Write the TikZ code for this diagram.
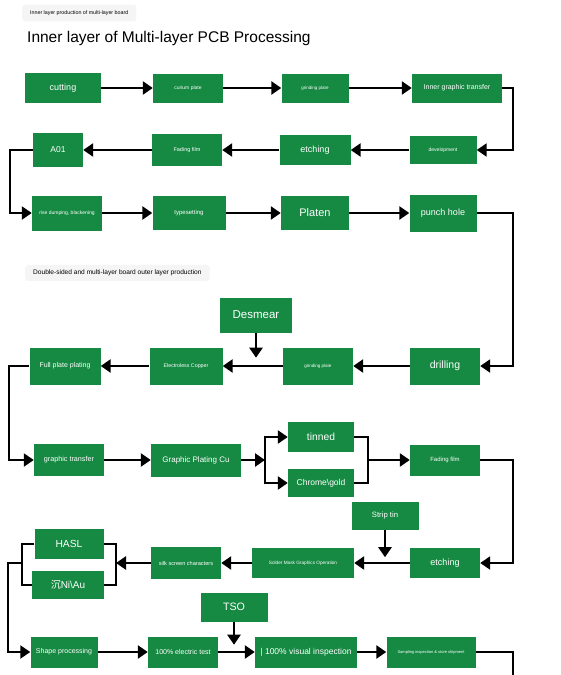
\documentclass[tikz,border=0pt]{standalone}
\usepackage{fontspec}
\setmainfont{Liberation Sans}
\newfontfamily\cjk{Noto Sans CJK SC}
\usetikzlibrary{arrows.meta}
\definecolor{pcbgreen}{RGB}{22,138,66}

\begin{document}
\begin{tikzpicture}[x=1pt, y=-1pt, >={Triangle[length=10pt,width=13pt]},
  box/.style args={#1/#2}{fill=pcbgreen, text=white, inner sep=0pt, minimum width=#1, minimum height=#2},
  fs/.style={font=\fontsize{#1}{#1}\selectfont},
  flow/.style={->, line width=2.8pt},
  side/.style={line width=2.2pt},
  tag/.style={fill=black!4, rounded corners=3pt, anchor=west, inner xsep=8pt, inner ysep=6pt}]
	\useasboundingbox (0,0) rectangle (561,675);
	\node[tag, fs=5.3] (toplabel) at (22,13) {Inner layer production of multi-layer board};
	\node[anchor=west, inner sep=0pt, fs=15.5] (title) at (27,38) {Inner layer of Multi-layer PCB Processing};
	\node[tag, fs=6.6, inner ysep=5pt] (outlabel) at (25,273) {Double-sided and multi-layer board outer layer production};

	\node[box=76/30, fs=9] (cutting) at (63,88) {cutting};
	\node[box=70/29, fs=5] (curium) at (188,88) {curium plate};
	\node[box=67/29, fs=4.5] (grindA) at (315,88) {grinding plate};
	\node[box=90/29, fs=7] (inner) at (457,88) {Inner graphic transfer};
	\draw[flow] (cutting) -- (curium);
	\draw[flow] (curium) -- (grindA);
	\draw[flow] (grindA) -- (inner);

	\node[box=50/34, fs=8.5] (a01) at (58,150) {A01};
	\node[box=70/32, fs=5.5] (fadeA) at (187,150) {Fading film};
	\node[box=71/30, fs=9] (etchA) at (315,150) {etching};
	\node[box=67/28, fs=5] (develop) at (443,150) {development};
	\draw[side,->] (inner.east) -- ++(11,0) |- (develop);
	\draw[flow] (develop) -- (etchA);
	\draw[flow] (etchA) -- (fadeA);
	\draw[flow] (fadeA) -- (a01);

	\node[box=70/35, fs=5] (rinse) at (67,213) {rise dumping, blackening};
	\node[box=73/34, fs=6] (typeset) at (189,213) {typesetting};
	\node[box=68/34, fs=11] (platen) at (315,213) {Platen};
	\node[box=67/37, fs=9] (punch) at (443,213) {punch hole};
	\draw[side,->] (a01.west) -- ++(-23,0) |- (rinse);
	\draw[flow] (rinse) -- (typeset);
	\draw[flow] (typeset) -- (platen);
	\draw[flow] (platen) -- (punch);

	\node[box=72/35, fs=11.5] (desmear) at (256,315) {Desmear};
	\node[box=71/37, fs=7] (fullplate) at (65,366) {Full plate plating};
	\node[box=73/37, fs=5.3] (copper) at (186,366) {Electroless Copper};
	\node[box=70/37, fs=4.5] (grindB) at (318,366) {grinding plate};
	\node[box=70/37, fs=10.5] (drilling) at (445,366) {drilling};
	\draw[side,->] (punch.east) -- ++(36,0) |- (drilling);
	\draw[flow] (drilling) -- (grindB);
	\draw[flow] (grindB) -- (copper);
	\draw[flow] (copper) -- (fullplate);
	\draw[flow] (desmear.south) -- ++(0,25);

	\node[box=70/32, fs=7.2] (graphic) at (69,460) {graphic transfer};
	\node[box=90/33, fs=8] (gpcu) at (196,460) {Graphic Plating Cu};
	\node[box=66/30, fs=10.3] (tinned) at (321,437) {tinned};
	\node[box=66/28, fs=8.5] (chrome) at (321,483) {Chrome\textbackslash gold};
	\node[box=70/31, fs=6] (fadeB) at (445,460) {Fading film};
	\coordinate (split) at (265,460);
	\coordinate (join) at (368,460);
	\draw[side,->] (fullplate.west) -- ++(-20,0) |- (graphic);
	\draw[flow] (graphic) -- (gpcu);
	\draw[flow] (gpcu) -- (split);
	\draw[flow] (split) |- (tinned);
	\draw[flow] (split) |- (chrome);
	\draw[side] (tinned) -| (join);
	\draw[side] (chrome) -| (join);
	\draw[flow] (join) -- (fadeB);

	\node[box=67/28, fs=7.7] (strip) at (385,516) {Strip tin};
	\node[box=70/30, fs=9] (etchB) at (445,563) {etching};
	\node[box=102/30, fs=4.7] (solder) at (303,563) {Solder Mask Graphics Operation};
	\node[box=70/32, fs=5.6] (silk) at (186,563) {silk screen characters};
	\node[box=69/30, fs=10.3] (hasl) at (69,544) {HASL};
	\node[box=72/28, fs=10] (ni) at (68,585) {{\cjk 沉}Ni\textbackslash Au};
	\coordinate (fork) at (116,563);
	\coordinate (lfork) at (22,563);
	\draw[side,->] (fadeB.east) -- ++(33,0) |- (etchB);
	\draw[flow] (strip.south) -- ++(0,27);
	\draw[flow] (etchB) -- (solder);
	\draw[flow] (solder) -- (silk);
	\draw[flow] (silk) -- (fork);
	\draw[side] (hasl) -| (fork);
	\draw[side] (ni) -| (fork);
	\draw[side] (hasl) -| (lfork);
	\draw[side] (ni) -| (lfork);

	\node[box=67/29, fs=10.7] (tso) at (234,607) {TSO};
	\node[box=67/31, fs=7] (shape) at (64,652) {Shape processing};
	\node[box=70/31, fs=7] (elec) at (183,652) {100\% electric test};
	\node[box=102/31, fs=8.5] (visual) at (306,652) {| 100\% visual inspection};
	\node[box=89/31, fs=4] (sampling) at (431,652) {Sampling inspection \& store shipment};
	\draw[side,->] (lfork) -- ++(-14,0) |- (shape);
	\draw[flow] (tso.south) -- ++(0,23);
	\draw[flow] (shape) -- (elec);
	\draw[flow] (elec) -- (visual);
	\draw[flow] (visual) -- (sampling);
	\draw[side] (sampling.east) -- ++(37,0) -- ++(0,30);
\end{tikzpicture}
\end{document}
